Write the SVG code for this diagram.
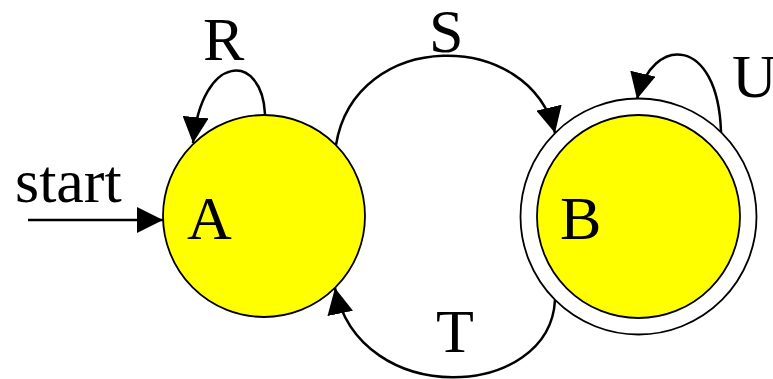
<svg xmlns="http://www.w3.org/2000/svg" width="773" height="379" viewBox="0 0 773 379">
<style>
.st{fill:#ffff00;stroke:#000;stroke-width:1.8}
.ring{fill:none;stroke:#000;stroke-width:1.8}
.e{fill:none;stroke:#000;stroke-width:2.5;marker-end:url(#ah)}
.t{font-family:'Liberation Serif','Times New Roman',serif;font-size:62px;fill:#000}
</style>
<defs>
<marker id="ah" viewBox="0 0 26 26" refX="26" refY="13" markerWidth="26" markerHeight="26" markerUnits="userSpaceOnUse" orient="auto">
<path d="M0,0 L26,13 L0,26 Z" fill="#000"/>
</marker>
</defs>
<rect width="773" height="379" fill="#fff"/>
<g id="nodeA">
<circle class="st" cx="264" cy="216" r="101"/>
<text class="t" x="187" y="239">A</text>
</g>
<g id="nodeB">
<circle class="ring" cx="638.5" cy="216.5" r="118"/>
<circle class="st" cx="638.5" cy="216.5" r="101.5"/>
<text class="t" x="560" y="239">B</text>
</g>
<g id="connectors">
<path class="e" d="M28,220 L163,220"/>
<text class="t" x="15" y="202">start</text>
<path class="e" d="M265,114 C262,52 202,52 193,143"/>
<text class="t" x="203" y="60">R</text>
<path class="e" d="M336,145 C355,28 530,28 555,133"/>
<text class="t" x="429" y="52">S</text>
<path class="e" d="M721,132 C718,35 652,35 637,99"/>
<text class="t" x="732" y="97">U</text>
<path class="e" d="M555,300 C550,400 360,410 335,288"/>
<text class="t" x="436" y="352">T</text>
</g>
</svg>
